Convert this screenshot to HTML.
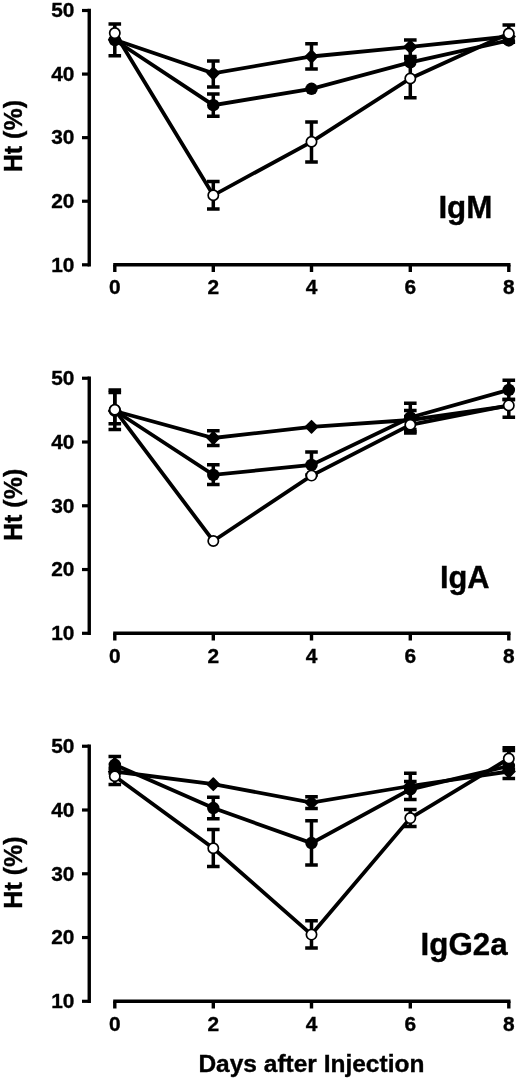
<!DOCTYPE html>
<html lang="en">
<head>
<meta charset="utf-8">
<title>Ht (%) vs Days after Injection</title>
<style>
html,body{margin:0;padding:0;background:#fff;}
body{width:520px;height:1080px;overflow:hidden;}
svg{display:block;filter:blur(0.45px);}
svg text{font-family:"Liberation Sans", Arial, Helvetica, sans-serif;font-weight:700;fill:#000;stroke:#000;stroke-width:0.35px;}
</style>
</head>
<body>
<svg width="520" height="1080" viewBox="0 0 520 1080">
<rect x="0" y="0" width="520" height="1080" fill="#fff"/>
<path d="M89.25 8.80V266.50" stroke="#000" stroke-width="3.4" fill="none"/>
<path d="M82 10.50H89.25" stroke="#000" stroke-width="3.2" fill="none"/>
<text x="74.4" y="17.30" text-anchor="end" font-size="20" textLength="23.2" lengthAdjust="spacingAndGlyphs">50</text>
<path d="M82 74.08H89.25" stroke="#000" stroke-width="3.2" fill="none"/>
<text x="74.4" y="80.88" text-anchor="end" font-size="20" textLength="23.2" lengthAdjust="spacingAndGlyphs">40</text>
<path d="M82 137.65H89.25" stroke="#000" stroke-width="3.2" fill="none"/>
<text x="74.4" y="144.45" text-anchor="end" font-size="20" textLength="23.2" lengthAdjust="spacingAndGlyphs">30</text>
<path d="M82 201.23H89.25" stroke="#000" stroke-width="3.2" fill="none"/>
<text x="74.4" y="208.03" text-anchor="end" font-size="20" textLength="23.2" lengthAdjust="spacingAndGlyphs">20</text>
<path d="M82 264.80H89.25" stroke="#000" stroke-width="3.2" fill="none"/>
<text x="74.4" y="271.60" text-anchor="end" font-size="20" textLength="23.2" lengthAdjust="spacingAndGlyphs">10</text>
<path d="M113.2 264.80H510.5" stroke="#000" stroke-width="3.4" fill="none"/>
<path d="M114.8 264.80V272.00" stroke="#000" stroke-width="3.4" fill="none"/>
<text x="114.8" y="294.10" text-anchor="middle" font-size="20" textLength="11.6" lengthAdjust="spacingAndGlyphs">0</text>
<path d="M213.3 264.80V272.00" stroke="#000" stroke-width="3.4" fill="none"/>
<text x="213.3" y="294.10" text-anchor="middle" font-size="20" textLength="11.6" lengthAdjust="spacingAndGlyphs">2</text>
<path d="M311.5 264.80V272.00" stroke="#000" stroke-width="3.4" fill="none"/>
<text x="311.5" y="294.10" text-anchor="middle" font-size="20" textLength="11.6" lengthAdjust="spacingAndGlyphs">4</text>
<path d="M410.3 264.80V272.00" stroke="#000" stroke-width="3.4" fill="none"/>
<text x="410.3" y="294.10" text-anchor="middle" font-size="20" textLength="11.6" lengthAdjust="spacingAndGlyphs">6</text>
<path d="M508.8 264.80V272.00" stroke="#000" stroke-width="3.4" fill="none"/>
<text x="508.8" y="294.10" text-anchor="middle" font-size="20" textLength="11.6" lengthAdjust="spacingAndGlyphs">8</text>
<text transform="translate(21.9 136.10) rotate(-90)" text-anchor="middle" font-size="25" textLength="72.3" lengthAdjust="spacingAndGlyphs">Ht (%)</text>
<polyline points="114.8,39.8 213.3,73.3 311.5,56.5 410.3,46.9 508.8,36.5" fill="none" stroke="#000" stroke-width="3.8" stroke-linejoin="miter"/>
<polyline points="114.8,40.0 213.3,105.2 311.5,88.8 410.3,62.3 508.8,40.4" fill="none" stroke="#000" stroke-width="3.8" stroke-linejoin="miter"/>
<polyline points="114.8,33.1 213.3,195.3 311.5,141.8 410.3,78.5 508.8,33.6" fill="none" stroke="#000" stroke-width="3.8" stroke-linejoin="miter"/>
<path d="M114.8 24.0V55.8M108.5 24.0H121.1M108.5 55.8H121.1" stroke="#000" stroke-width="3.5" fill="none"/>
<path d="M213.3 61.1V86.9M207.0 61.1H219.60000000000002M207.0 86.9H219.60000000000002" stroke="#000" stroke-width="3.5" fill="none"/>
<path d="M311.5 43.8V68.9M305.2 43.8H317.8M305.2 68.9H317.8" stroke="#000" stroke-width="3.5" fill="none"/>
<path d="M410.3 40.0V56.4M404.0 40.0H416.6M404.0 56.4H416.6" stroke="#000" stroke-width="3.5" fill="none"/>
<path d="M213.3 94.0V116.2M207.0 94.0H219.60000000000002M207.0 116.2H219.60000000000002" stroke="#000" stroke-width="3.5" fill="none"/>
<path d="M213.3 181.5V209.1M207.0 181.5H219.60000000000002M207.0 209.1H219.60000000000002" stroke="#000" stroke-width="3.5" fill="none"/>
<path d="M311.5 122.0V161.9M305.2 122.0H317.8M305.2 161.9H317.8" stroke="#000" stroke-width="3.5" fill="none"/>
<path d="M410.3 58.6V97.7M404.0 58.6H416.6M404.0 97.7H416.6" stroke="#000" stroke-width="3.5" fill="none"/>
<path d="M508.8 24.9V42.3M502.5 24.9H515.1M502.5 42.3H515.1" stroke="#000" stroke-width="3.5" fill="none"/>
<path d="M108.7 39.8L114.8 33.699999999999996L120.89999999999999 39.8L114.8 45.9Z" fill="#000" stroke="#000" stroke-width="1.6" stroke-linejoin="round"/>
<path d="M207.20000000000002 73.3L213.3 67.2L219.4 73.3L213.3 79.39999999999999Z" fill="#000" stroke="#000" stroke-width="1.6" stroke-linejoin="round"/>
<path d="M305.4 56.5L311.5 50.4L317.6 56.5L311.5 62.6Z" fill="#000" stroke="#000" stroke-width="1.6" stroke-linejoin="round"/>
<path d="M404.2 46.9L410.3 40.8L416.40000000000003 46.9L410.3 53.0Z" fill="#000" stroke="#000" stroke-width="1.6" stroke-linejoin="round"/>
<path d="M502.7 36.5L508.8 30.4L514.9 36.5L508.8 42.6Z" fill="#000" stroke="#000" stroke-width="1.6" stroke-linejoin="round"/>
<circle cx="114.8" cy="40.0" r="6.25" fill="#000"/>
<circle cx="213.3" cy="105.2" r="6.25" fill="#000"/>
<circle cx="311.5" cy="88.8" r="6.25" fill="#000"/>
<circle cx="410.3" cy="62.3" r="6.25" fill="#000"/>
<circle cx="508.8" cy="40.4" r="6.25" fill="#000"/>
<circle cx="114.8" cy="33.1" r="5.15" fill="#fff" stroke="#000" stroke-width="1.7"/>
<circle cx="213.3" cy="195.3" r="5.15" fill="#fff" stroke="#000" stroke-width="1.7"/>
<circle cx="311.5" cy="141.8" r="5.15" fill="#fff" stroke="#000" stroke-width="1.7"/>
<circle cx="410.3" cy="78.5" r="5.15" fill="#fff" stroke="#000" stroke-width="1.7"/>
<circle cx="508.8" cy="33.6" r="5.15" fill="#fff" stroke="#000" stroke-width="1.7"/>
<text x="438.4" y="218.1" font-size="30.5" textLength="54.0" lengthAdjust="spacingAndGlyphs">IgM</text>
<path d="M89.25 376.55V635.00" stroke="#000" stroke-width="3.4" fill="none"/>
<path d="M82 378.25H89.25" stroke="#000" stroke-width="3.2" fill="none"/>
<text x="74.4" y="385.05" text-anchor="end" font-size="20" textLength="23.2" lengthAdjust="spacingAndGlyphs">50</text>
<path d="M82 442.01H89.25" stroke="#000" stroke-width="3.2" fill="none"/>
<text x="74.4" y="448.81" text-anchor="end" font-size="20" textLength="23.2" lengthAdjust="spacingAndGlyphs">40</text>
<path d="M82 505.77H89.25" stroke="#000" stroke-width="3.2" fill="none"/>
<text x="74.4" y="512.57" text-anchor="end" font-size="20" textLength="23.2" lengthAdjust="spacingAndGlyphs">30</text>
<path d="M82 569.54H89.25" stroke="#000" stroke-width="3.2" fill="none"/>
<text x="74.4" y="576.34" text-anchor="end" font-size="20" textLength="23.2" lengthAdjust="spacingAndGlyphs">20</text>
<path d="M82 633.30H89.25" stroke="#000" stroke-width="3.2" fill="none"/>
<text x="74.4" y="640.10" text-anchor="end" font-size="20" textLength="23.2" lengthAdjust="spacingAndGlyphs">10</text>
<path d="M113.2 633.30H510.5" stroke="#000" stroke-width="3.4" fill="none"/>
<path d="M114.8 633.30V640.50" stroke="#000" stroke-width="3.4" fill="none"/>
<text x="114.8" y="662.60" text-anchor="middle" font-size="20" textLength="11.6" lengthAdjust="spacingAndGlyphs">0</text>
<path d="M213.3 633.30V640.50" stroke="#000" stroke-width="3.4" fill="none"/>
<text x="213.3" y="662.60" text-anchor="middle" font-size="20" textLength="11.6" lengthAdjust="spacingAndGlyphs">2</text>
<path d="M311.5 633.30V640.50" stroke="#000" stroke-width="3.4" fill="none"/>
<text x="311.5" y="662.60" text-anchor="middle" font-size="20" textLength="11.6" lengthAdjust="spacingAndGlyphs">4</text>
<path d="M410.3 633.30V640.50" stroke="#000" stroke-width="3.4" fill="none"/>
<text x="410.3" y="662.60" text-anchor="middle" font-size="20" textLength="11.6" lengthAdjust="spacingAndGlyphs">6</text>
<path d="M508.8 633.30V640.50" stroke="#000" stroke-width="3.4" fill="none"/>
<text x="508.8" y="662.60" text-anchor="middle" font-size="20" textLength="11.6" lengthAdjust="spacingAndGlyphs">8</text>
<text transform="translate(21.9 504.90) rotate(-90)" text-anchor="middle" font-size="25" textLength="72.3" lengthAdjust="spacingAndGlyphs">Ht (%)</text>
<polyline points="114.8,411.0 213.3,438.0 311.5,426.8 410.3,420.0 508.8,405.8" fill="none" stroke="#000" stroke-width="3.8" stroke-linejoin="miter"/>
<polyline points="114.8,410.5 213.3,474.9 311.5,464.9 410.3,417.5 508.8,389.9" fill="none" stroke="#000" stroke-width="3.8" stroke-linejoin="miter"/>
<polyline points="114.8,409.8 213.3,541.0 311.5,475.6 410.3,424.8 508.8,405.4" fill="none" stroke="#000" stroke-width="3.8" stroke-linejoin="miter"/>
<path d="M213.3 430.8V445.5M207.0 430.8H219.60000000000002M207.0 445.5H219.60000000000002" stroke="#000" stroke-width="3.5" fill="none"/>
<path d="M410.3 410.6V429.4M404.0 410.6H416.6M404.0 429.4H416.6" stroke="#000" stroke-width="3.5" fill="none"/>
<path d="M114.8 392.4V423.8M108.5 392.4H121.1M108.5 423.8H121.1" stroke="#000" stroke-width="3.5" fill="none"/>
<path d="M213.3 464.8V484.4M207.0 464.8H219.60000000000002M207.0 484.4H219.60000000000002" stroke="#000" stroke-width="3.5" fill="none"/>
<path d="M311.5 451.9V475.0M305.2 451.9H317.8M305.2 475.0H317.8" stroke="#000" stroke-width="3.5" fill="none"/>
<path d="M410.3 403.2V431.8M404.0 403.2H416.6M404.0 431.8H416.6" stroke="#000" stroke-width="3.5" fill="none"/>
<path d="M508.8 380.2V399.4M502.5 380.2H515.1M502.5 399.4H515.1" stroke="#000" stroke-width="3.5" fill="none"/>
<path d="M114.8 390.0V429.6M108.5 390.0H121.1M108.5 429.6H121.1" stroke="#000" stroke-width="3.5" fill="none"/>
<path d="M410.3 416.5V433.1M404.0 416.5H416.6M404.0 433.1H416.6" stroke="#000" stroke-width="3.5" fill="none"/>
<path d="M508.8 399.4V417.2M502.5 399.4H515.1M502.5 417.2H515.1" stroke="#000" stroke-width="3.5" fill="none"/>
<path d="M108.7 411.0L114.8 404.9L120.89999999999999 411.0L114.8 417.1Z" fill="#000" stroke="#000" stroke-width="1.6" stroke-linejoin="round"/>
<path d="M207.20000000000002 438.0L213.3 431.9L219.4 438.0L213.3 444.1Z" fill="#000" stroke="#000" stroke-width="1.6" stroke-linejoin="round"/>
<path d="M305.4 426.8L311.5 420.7L317.6 426.8L311.5 432.90000000000003Z" fill="#000" stroke="#000" stroke-width="1.6" stroke-linejoin="round"/>
<path d="M404.2 420.0L410.3 413.9L416.40000000000003 420.0L410.3 426.1Z" fill="#000" stroke="#000" stroke-width="1.6" stroke-linejoin="round"/>
<circle cx="114.8" cy="410.5" r="6.25" fill="#000"/>
<circle cx="213.3" cy="474.9" r="6.25" fill="#000"/>
<circle cx="311.5" cy="464.9" r="6.25" fill="#000"/>
<circle cx="410.3" cy="417.5" r="6.25" fill="#000"/>
<circle cx="508.8" cy="389.9" r="6.25" fill="#000"/>
<circle cx="114.8" cy="409.8" r="5.15" fill="#fff" stroke="#000" stroke-width="1.7"/>
<circle cx="213.3" cy="541.0" r="5.15" fill="#fff" stroke="#000" stroke-width="1.7"/>
<circle cx="311.5" cy="475.6" r="5.15" fill="#fff" stroke="#000" stroke-width="1.7"/>
<circle cx="410.3" cy="424.8" r="5.15" fill="#fff" stroke="#000" stroke-width="1.7"/>
<circle cx="508.8" cy="405.4" r="5.15" fill="#fff" stroke="#000" stroke-width="1.7"/>
<text x="440.0" y="587.7" font-size="30.5" textLength="49.6" lengthAdjust="spacingAndGlyphs">IgA</text>
<path d="M89.25 744.55V1003.00" stroke="#000" stroke-width="3.4" fill="none"/>
<path d="M82 746.25H89.25" stroke="#000" stroke-width="3.2" fill="none"/>
<text x="74.4" y="753.05" text-anchor="end" font-size="20" textLength="23.2" lengthAdjust="spacingAndGlyphs">50</text>
<path d="M82 810.01H89.25" stroke="#000" stroke-width="3.2" fill="none"/>
<text x="74.4" y="816.81" text-anchor="end" font-size="20" textLength="23.2" lengthAdjust="spacingAndGlyphs">40</text>
<path d="M82 873.77H89.25" stroke="#000" stroke-width="3.2" fill="none"/>
<text x="74.4" y="880.57" text-anchor="end" font-size="20" textLength="23.2" lengthAdjust="spacingAndGlyphs">30</text>
<path d="M82 937.54H89.25" stroke="#000" stroke-width="3.2" fill="none"/>
<text x="74.4" y="944.34" text-anchor="end" font-size="20" textLength="23.2" lengthAdjust="spacingAndGlyphs">20</text>
<path d="M82 1001.30H89.25" stroke="#000" stroke-width="3.2" fill="none"/>
<text x="74.4" y="1008.10" text-anchor="end" font-size="20" textLength="23.2" lengthAdjust="spacingAndGlyphs">10</text>
<path d="M113.2 1001.30H510.5" stroke="#000" stroke-width="3.4" fill="none"/>
<path d="M114.8 1001.30V1008.50" stroke="#000" stroke-width="3.4" fill="none"/>
<text x="114.8" y="1030.60" text-anchor="middle" font-size="20" textLength="11.6" lengthAdjust="spacingAndGlyphs">0</text>
<path d="M213.3 1001.30V1008.50" stroke="#000" stroke-width="3.4" fill="none"/>
<text x="213.3" y="1030.60" text-anchor="middle" font-size="20" textLength="11.6" lengthAdjust="spacingAndGlyphs">2</text>
<path d="M311.5 1001.30V1008.50" stroke="#000" stroke-width="3.4" fill="none"/>
<text x="311.5" y="1030.60" text-anchor="middle" font-size="20" textLength="11.6" lengthAdjust="spacingAndGlyphs">4</text>
<path d="M410.3 1001.30V1008.50" stroke="#000" stroke-width="3.4" fill="none"/>
<text x="410.3" y="1030.60" text-anchor="middle" font-size="20" textLength="11.6" lengthAdjust="spacingAndGlyphs">6</text>
<path d="M508.8 1001.30V1008.50" stroke="#000" stroke-width="3.4" fill="none"/>
<text x="508.8" y="1030.60" text-anchor="middle" font-size="20" textLength="11.6" lengthAdjust="spacingAndGlyphs">8</text>
<text transform="translate(21.9 872.50) rotate(-90)" text-anchor="middle" font-size="25" textLength="72.3" lengthAdjust="spacingAndGlyphs">Ht (%)</text>
<polyline points="114.8,771.5 213.3,784.2 311.5,802.5 410.3,786.0 508.8,771.5" fill="none" stroke="#000" stroke-width="3.8" stroke-linejoin="miter"/>
<polyline points="114.8,764.8 213.3,808.1 311.5,843.1 410.3,789.4 508.8,766.0" fill="none" stroke="#000" stroke-width="3.8" stroke-linejoin="miter"/>
<polyline points="114.8,776.3 213.3,848.2 311.5,934.6 410.3,818.1 508.8,758.5" fill="none" stroke="#000" stroke-width="3.8" stroke-linejoin="miter"/>
<path d="M311.5 796.8V808.5M305.2 796.8H317.8M305.2 808.5H317.8" stroke="#000" stroke-width="3.5" fill="none"/>
<path d="M410.3 773.3V799.6M404.0 773.3H416.6M404.0 799.6H416.6" stroke="#000" stroke-width="3.5" fill="none"/>
<path d="M114.8 756.5V773.0M108.5 756.5H121.1M108.5 773.0H121.1" stroke="#000" stroke-width="3.5" fill="none"/>
<path d="M213.3 797.2V818.8M207.0 797.2H219.60000000000002M207.0 818.8H219.60000000000002" stroke="#000" stroke-width="3.5" fill="none"/>
<path d="M311.5 820.7V865.1M305.2 820.7H317.8M305.2 865.1H317.8" stroke="#000" stroke-width="3.5" fill="none"/>
<path d="M410.3 781.6V789.4M404.0 781.6H416.6M404.0 789.4H416.6" stroke="#000" stroke-width="3.5" fill="none"/>
<path d="M508.8 750.5V778.5M502.5 750.5H515.1M502.5 778.5H515.1" stroke="#000" stroke-width="3.5" fill="none"/>
<path d="M114.8 768.2V784.4M108.5 768.2H121.1M108.5 784.4H121.1" stroke="#000" stroke-width="3.5" fill="none"/>
<path d="M213.3 829.6V866.4M207.0 829.6H219.60000000000002M207.0 866.4H219.60000000000002" stroke="#000" stroke-width="3.5" fill="none"/>
<path d="M311.5 920.8V948.0M305.2 920.8H317.8M305.2 948.0H317.8" stroke="#000" stroke-width="3.5" fill="none"/>
<path d="M410.3 809.6V826.4M404.0 809.6H416.6M404.0 826.4H416.6" stroke="#000" stroke-width="3.5" fill="none"/>
<path d="M508.8 747.8V769.2M502.5 747.8H515.1M502.5 769.2H515.1" stroke="#000" stroke-width="3.5" fill="none"/>
<path d="M108.7 771.5L114.8 765.4L120.89999999999999 771.5L114.8 777.6Z" fill="#000" stroke="#000" stroke-width="1.6" stroke-linejoin="round"/>
<path d="M207.20000000000002 784.2L213.3 778.1L219.4 784.2L213.3 790.3000000000001Z" fill="#000" stroke="#000" stroke-width="1.6" stroke-linejoin="round"/>
<path d="M305.4 802.5L311.5 796.4L317.6 802.5L311.5 808.6Z" fill="#000" stroke="#000" stroke-width="1.6" stroke-linejoin="round"/>
<path d="M404.2 786.0L410.3 779.9L416.40000000000003 786.0L410.3 792.1Z" fill="#000" stroke="#000" stroke-width="1.6" stroke-linejoin="round"/>
<path d="M502.7 771.5L508.8 765.4L514.9 771.5L508.8 777.6Z" fill="#000" stroke="#000" stroke-width="1.6" stroke-linejoin="round"/>
<circle cx="114.8" cy="764.8" r="6.25" fill="#000"/>
<circle cx="213.3" cy="808.1" r="6.25" fill="#000"/>
<circle cx="311.5" cy="843.1" r="6.25" fill="#000"/>
<circle cx="410.3" cy="789.4" r="6.25" fill="#000"/>
<circle cx="508.8" cy="766.0" r="6.25" fill="#000"/>
<circle cx="114.8" cy="776.3" r="5.15" fill="#fff" stroke="#000" stroke-width="1.7"/>
<circle cx="213.3" cy="848.2" r="5.15" fill="#fff" stroke="#000" stroke-width="1.7"/>
<circle cx="311.5" cy="934.6" r="5.15" fill="#fff" stroke="#000" stroke-width="1.7"/>
<circle cx="410.3" cy="818.1" r="5.15" fill="#fff" stroke="#000" stroke-width="1.7"/>
<circle cx="508.8" cy="758.5" r="5.15" fill="#fff" stroke="#000" stroke-width="1.7"/>
<text x="420.6" y="955.1" font-size="30.5" textLength="87.0" lengthAdjust="spacingAndGlyphs">IgG2a</text>
<text x="198.4" y="1072" font-size="23.5" textLength="226.0" lengthAdjust="spacingAndGlyphs">Days after Injection</text>
</svg>
</body>
</html>
